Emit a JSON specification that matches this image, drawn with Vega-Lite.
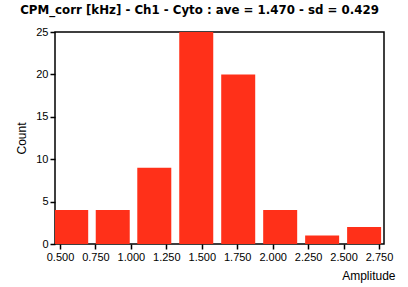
{
  "$schema": "https://vega.github.io/schema/vega-lite/v6.json",
  "width": 329,
  "height": 212,
  "autosize": {"type": "none"},
  "padding": {"left": 55, "top": 32, "right": 24, "bottom": 43},
  "background": "white",
  "title": {
    "text": "CPM_corr [kHz] - Ch1 - Cyto : ave = 1.470 - sd = 0.429",
    "font": "DejaVu Sans",
    "fontSize": 11.8,
    "fontWeight": "bold",
    "color": "#000000",
    "anchor": "middle",
    "dx": -20,
    "offset": 9
  },
  "data": {
    "values": [
      {"amplitude": 0.579, "count": 4},
      {"amplitude": 0.872, "count": 4},
      {"amplitude": 1.165, "count": 9},
      {"amplitude": 1.461, "count": 25},
      {"amplitude": 1.757, "count": 20},
      {"amplitude": 2.053, "count": 4},
      {"amplitude": 2.349, "count": 1},
      {"amplitude": 2.645, "count": 2}
    ]
  },
  "mark": {"type": "bar", "color": "#ff3019", "width": 34, "clip": true},
  "encoding": {
    "x": {
      "field": "amplitude",
      "type": "quantitative",
      "scale": {"domain": [0.5, 2.75], "nice": false, "zero": false},
      "axis": {
        "values": [0.5, 0.75, 1.0, 1.25, 1.5, 1.75, 2.0, 2.25, 2.5, 2.75],
        "format": ".3f",
        "grid": false,
        "domain": false,
        "tickColor": "#000000",
        "tickSize": 5,
        "tickWidth": 1.5,
        "labelFont": "Liberation Sans",
        "labelFontSize": 11,
        "labelColor": "#000000",
        "labelPadding": 2,
        "labelFlush": false,
        "labelOverlap": false,
        "title": "Amplitude",
        "titleFont": "Liberation Sans",
        "titleFontSize": 12,
        "titleFontWeight": "normal",
        "titleColor": "#000000",
        "titleAnchor": "end",
        "titleAlign": "right",
        "titleX": 340,
        "titleY": 35,
        "titleBaseline": "alphabetic"
      }
    },
    "y": {
      "field": "count",
      "type": "quantitative",
      "scale": {"domain": [0, 25], "nice": false},
      "axis": {
        "values": [0, 5, 10, 15, 20, 25],
        "grid": false,
        "domain": false,
        "tickColor": "#000000",
        "tickSize": 5,
        "tickWidth": 1.5,
        "labelFont": "Liberation Sans",
        "labelFontSize": 11,
        "labelColor": "#000000",
        "labelPadding": 2,
        "labelFlush": false,
        "title": "Count",
        "titleFont": "Liberation Sans",
        "titleFontSize": 12,
        "titleFontWeight": "normal",
        "titleColor": "#000000",
        "titlePadding": 7
      }
    }
  },
  "config": {
    "view": {"stroke": "#000000", "strokeWidth": 1.5}
  }
}
